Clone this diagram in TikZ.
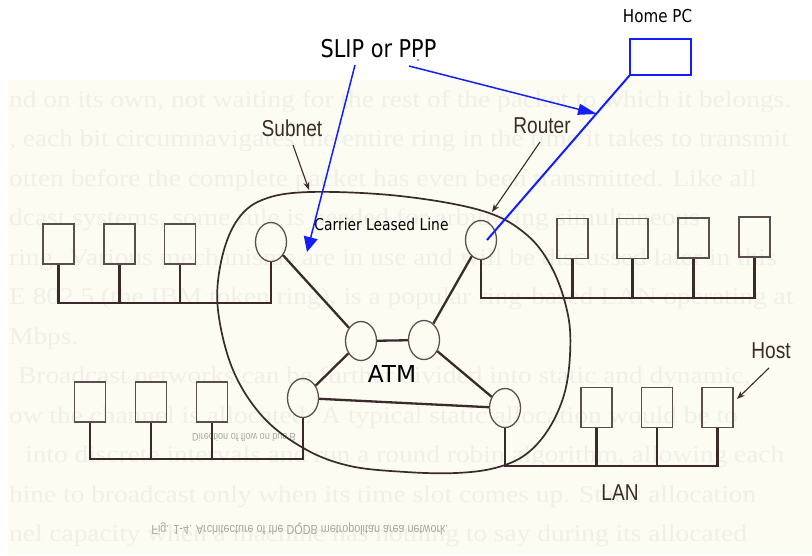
\documentclass[tikz,border=0pt]{standalone}
\usepackage{fontspec}
\setmainfont{Liberation Sans}
\newfontfamily\scanfont[FakeStretch=0.83]{Liberation Sans}
\newfontfamily\notefont[FakeStretch=0.85]{DejaVu Sans}
\newfontfamily\atmfont{DejaVu Sans}
\newfontfamily\pagefont[FakeStretch=1.14]{Liberation Serif}
\usetikzlibrary{shapes.geometric,arrows.meta}
\definecolor{pagebg}{RGB}{252,252,243}
\definecolor{ghost}{RGB}{240,240,233}
\definecolor{ghostdark}{RGB}{170,167,160}
\definecolor{ink}{RGB}{58,42,42}
\definecolor{inklight}{RGB}{92,78,78}
\definecolor{pen}{RGB}{20,30,250}
\begin{document}
\begin{tikzpicture}[x=1pt,y=-1pt,
  hostbox/.style={draw=inklight, line width=1.4pt, minimum width=31pt, minimum height=40pt, inner sep=0pt},
  switchnode/.style={ellipse, draw=inklight, line width=1.3pt, minimum width=31pt, minimum height=39pt, inner sep=0pt},
  wire/.style={draw=ink, line width=2.3pt},
  buswire/.style={draw=ink, line width=2.2pt},
  pointer/.style={draw=ink, line width=1.1pt, -{Stealth[length=8pt,width=6pt]}},
  scanlabel/.style={font=\scanfont\fontsize{23}{23}\selectfont, text=ink, inner sep=0pt, anchor=base},
  notelabel/.style={text=black, inner sep=0pt, anchor=base},
  ghostline/.style={font=\pagefont\fontsize{24}{24}\selectfont, text=ghost, inner sep=0pt, anchor=base west},
  ghostflip/.style={font=\scanfont, text=ghostdark, inner sep=0pt, anchor=center},
  penline/.style={draw=pen, line width=1.5pt},
]
\useasboundingbox (0,0) rectangle (812,555);
\fill[white] (0,0) rectangle (812,555);
\fill[pagebg] (8,80) rectangle (812,555);

% faded page text of the scanned book page
\begin{scope}
\clip (8,80) rectangle (812,555);
\node[ghostline] (g1) at (9,107) {nd on its own, not waiting for the rest of the packet to which it belongs.};
\node[ghostline] (g2) at (9,146.5) {, each bit circumnavigates the entire ring in the time it takes to transmit};
\node[ghostline] (g3) at (9,186) {otten before the complete packet has even been transmitted. Like all};
\node[ghostline] (g4) at (9,225.5) {dcast systems, some rule is needed for arbitrating simultaneous};
\node[ghostline] (g5) at (9,265) {ring. Various mechanisms are in use and will be discussed later in this};
\node[ghostline] (g6) at (9,304.5) {E 802.5 (the IBM token ring), is a popular ring-based LAN operating at};
\node[ghostline] (g7) at (9,344) {Mbps.};
\node[ghostline] (g8) at (18,383.5) {Broadcast networks can be further divided into static and dynamic,};
\node[ghostline] (g9) at (9,423) {ow the channel is allocated. A typical static allocation would be to};
\node[ghostline] (g10) at (25,462.5) {into discrete intervals and run a round robin algorithm, allowing each};
\node[ghostline] (g11) at (9,502) {hine to broadcast only when its time slot comes up. Static allocation};
\node[ghostline] (g12) at (9,541.5) {nel capacity when a machine has nothing to say during its allocated};
\node[ghostflip] (gf1) at (300,529) {\fontsize{13}{13}\selectfont\scalebox{1}[-1]{Fig. 1-4. Architecture of the DQDB metropolitan area network.}};
\node[ghostflip] (gf2) at (244,437) {\fontsize{11}{11}\selectfont\scalebox{1}[-1]{Direction of flow on bus B}};
\end{scope}

% subnet outline
\draw[draw=ink, line width=1.7pt] plot[smooth cycle, tension=0.6] coordinates {
 (310,192) (400,196) (483,211) (527,235) (553,270) (568,315) (570,355) (564,395)
 (548,430) (525,455) (495,468) (456,473) (406,472) (350,466) (305,449) (263,417)
 (233,370) (218,310) (221,262) (236,222) (262,200)};

% switching elements
\node[switchnode] (c1) at (271,242) {};
\node[switchnode] (c2) at (361,341) {};
\node[switchnode] (c3) at (424,340) {};
\node[switchnode] (c4) at (303,398) {};
\node[switchnode] (c5) at (505,408) {};
\node[switchnode] (c6) at (481,240) {};

\draw[wire] (c1) -- (c2);
\draw[wire] (c2) -- (c3);
\draw[wire] (c2) -- (c4);
\draw[wire] (c3) -- (c6);
\draw[wire] (c3) -- (c5);
\draw[wire] (c4) -- (c5);

% hosts
\node[hostbox] (h11) at (58.5,244) {};
\node[hostbox] (h12) at (119.5,244) {};
\node[hostbox] (h13) at (180,244) {};
\node[hostbox] (h21) at (572.5,238.5) {};
\node[hostbox] (h22) at (632.5,238.5) {};
\node[hostbox] (h23) at (693.5,238) {};
\node[hostbox] (h24) at (754.5,237) {};
\node[hostbox] (h31) at (90,402) {};
\node[hostbox] (h32) at (151,402) {};
\node[hostbox] (h33) at (212,402) {};
\node[hostbox] (h41) at (596.5,407.5) {};
\node[hostbox] (h42) at (657,407.5) {};
\node[hostbox] (h43) at (717.5,407.5) {};

% LAN buses
\coordinate (bus1) at (0,303);
\coordinate (bus2) at (0,298);
\coordinate (bus3) at (0,459);
\coordinate (bus4) at (0,466);

\draw[buswire, line join=miter] (h11.south) -- (h11.south |- bus1) -- (c1.south |- bus1) -- (c1.south);
\draw[buswire] (h12.south) -- (h12.south |- bus1);
\draw[buswire] (h13.south) -- (h13.south |- bus1);

\draw[buswire, line join=miter] (c6.south) -- (c6.south |- bus2) -- (h24.south |- bus2) -- (h24.south);
\draw[buswire] (h21.south) -- (h21.south |- bus2);
\draw[buswire] (h22.south) -- (h22.south |- bus2);
\draw[buswire] (h23.south) -- (h23.south |- bus2);

\draw[buswire, line join=miter] (h31.south) -- (h31.south |- bus3) -- (c4.south |- bus3) -- (c4.south);
\draw[buswire] (h32.south) -- (h32.south |- bus3);
\draw[buswire] (h33.south) -- (h33.south |- bus3);

\draw[buswire, line join=miter] (c5.south) -- (c5.south |- bus4) -- (h43.south |- bus4) -- (h43.south);
\draw[buswire] (h41.south) -- (h41.south |- bus4);
\draw[buswire] (h42.south) -- (h42.south |- bus4);

% printed labels
\node[scanlabel] (subnet) at (292,136.5) {Subnet};
\node[scanlabel] (router) at (542,133) {Router};
\node[scanlabel] (host) at (771,358) {Host};
\node[scanlabel] (lan) at (620,500) {LAN};

\coordinate (subnetA) at (293,145);
\coordinate (subnetB) at (309,190);
\coordinate (routerA) at (540,142);
\coordinate (routerB) at (492,212);
\coordinate (hostA) at (769,368);
\coordinate (hostB) at (737,399);
\draw[pointer] (subnetA) -- (subnetB);
\draw[pointer] (routerA) -- (routerB);
\draw[pointer] (hostA) -- (hostB);

% annotations
\node[notelabel, font=\notefont\fontsize{24.5}{24.5}\selectfont] (slip) at (378.5,57) {SLIP or PPP};
\node[notelabel, font=\notefont\fontsize{17.8}{17.8}\selectfont] (homelbl) at (657.5,22.7) {Home PC};
\node[notelabel, font=\notefont\fontsize{16.3}{16.3}\selectfont] (carrier) at (381.5,230) {Carrier Leased Line};
\node[notelabel, font=\atmfont\fontsize{23.3}{23.3}\selectfont] (atm) at (392,382.7) {ATM};

\node[draw=pen, line width=1.2pt, minimum width=61pt, minimum height=36pt, inner sep=0pt] (pc) at (660.5,57) {};

\coordinate (slipL) at (355,65);
\coordinate (slipLtip) at (307,252);
\coordinate (slipR) at (409,66);
\coordinate (slipRtip) at (597,114);
\coordinate (routerin) at (487,240);
\draw[penline, -{Triangle[length=15pt,width=14pt]}] (slipL) -- (slipLtip);
\draw[penline, -{Triangle[length=19pt,width=11pt]}] (slipR) -- (slipRtip);
\draw[draw=pen, line width=2pt] (pc.south west) -- (routerin);
\fill[pen] (418,60) circle (0.9);
\end{tikzpicture}
\end{document}
